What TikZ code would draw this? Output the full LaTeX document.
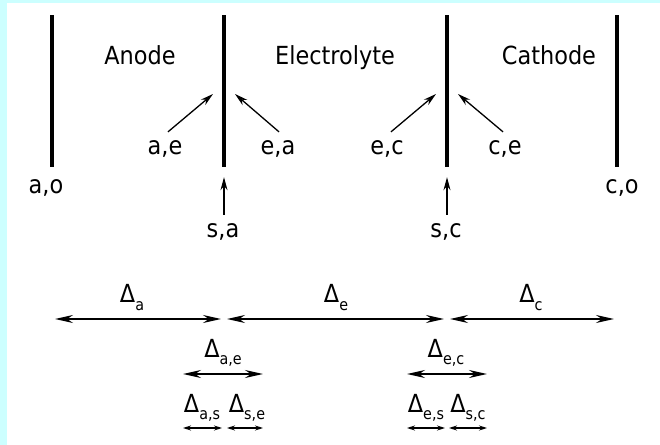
\documentclass[tikz,border=0pt]{standalone}
\usepackage{fontspec}
\setmainfont{DejaVu Sans Condensed}
\usepackage{xcolor}
\definecolor{bgcyan}{HTML}{CCFFFF}
\usetikzlibrary{arrows.meta,positioning}
\newcommand{\dlt}[1]{Δ\raisebox{-0.32em}{\fontsize{16}{16}\selectfont #1}}

\begin{document}
\begin{tikzpicture}[x=1bp,y=-1bp,font=\fontsize{25}{29}\selectfont,
  lbl/.style={inner sep=0pt,anchor=base},
  bar/.style={fill=black,inner sep=0pt,minimum width=3.3bp,minimum height=152bp},
  flux/.style={-{Stealth[length=13bp,width=7bp]},line width=1.3bp},
  span/.style={{Stealth[length=18bp,width=8bp]}-{Stealth[length=18bp,width=8bp]},line width=1.8bp,shorten <=3bp,shorten >=3bp},
  sspan/.style={{Stealth[length=8bp,width=5bp]}-{Stealth[length=8bp,width=5bp]},line width=1.1bp}]
\useasboundingbox (0,0) rectangle (660,445);
\fill[bgcyan] (0,0) rectangle (660,445);
\fill[white] (7,3) rectangle (660,445);
% electrode and interface bars
\node[bar] (bA) at (52,91) {};
\node[bar] (bSA) at (224,91) {};
\node[bar] (bSC) at (447,91) {};
\node[bar] (bC) at (617,91) {};
% region names
\node[lbl] (anode) at (140,65) {Anode};
\node[lbl] (elyte) at (335,65) {Electrolyte};
\node[lbl] (cathode) at (549,65) {Cathode};
% interface labels
\node[lbl] (ao) at (46,194) {a,o};
\node[lbl] (co) at (622,194) {c,o};
\node[lbl] (ae) at (165,155) {a,e};
\node[lbl] (ea) at (278,155) {e,a};
\node[lbl] (sa) at (223,238) {s,a};
\node[lbl] (ec) at (387,155) {e,c};
\node[lbl] (ce) at (505,155) {c,e};
\node[lbl] (sc) at (446,238) {s,c};
\draw[flux] ([shift={(3,-9)}]ae.north) -- ([xshift=-11bp,yshift=-3bp]bSA.center);
\draw[flux] ([shift={(1,-9)}]ea.north) -- ([xshift=11bp,yshift=-3bp]bSA.center);
\draw[flux] ([shift={(4,-9)}]ec.north) -- ([xshift=-11bp,yshift=-3bp]bSC.center);
\draw[flux] ([shift={(-2,-9)}]ce.north) -- ([xshift=11bp,yshift=-3bp]bSC.center);
\draw[flux] ([shift={(1,-9)}]sa.north) -- ([yshift=-10bp]bSA.south);
\draw[flux] ([shift={(1,-9)}]sc.north) -- ([yshift=-10bp]bSC.south);
% thicknesses
\coordinate (r1) at (0,319);
\coordinate (r2) at (0,374);
\coordinate (r3) at (0,428);
\coordinate (sA-l) at (183,0);
\coordinate (sA-r) at (263,0);
\coordinate (sC-l) at (407,0);
\coordinate (sC-r) at (487,0);
\node[lbl] (da) at (132,303) {\dlt{a}};
\node[lbl] (de) at (336,303) {\dlt{e}};
\node[lbl] (dc) at (531,303) {\dlt{c}};
\draw[span] (bA|-r1) -- (bSA|-r1);
\draw[span] (bSA|-r1) -- (bSC|-r1);
\draw[span] (bSC|-r1) -- (bC|-r1);
\node[lbl] (dae) at (223,357) {\dlt{a,e}};
\node[lbl] (dec) at (446,357) {\dlt{e,c}};
\draw[span,shorten <=0bp,shorten >=0bp] (sA-l|-r2) -- (sA-r|-r2);
\draw[span,shorten <=0bp,shorten >=0bp] (sC-l|-r2) -- (sC-r|-r2);
\node[lbl] (das) at (202,412) {\dlt{a,s}};
\node[lbl] (dse) at (247,412) {\dlt{s,e}};
\node[lbl] (des) at (426,412) {\dlt{e,s}};
\node[lbl] (dsc) at (468,412) {\dlt{s,c}};
\draw[sspan,shorten >=2bp] (sA-l|-r3) -- (bSA|-r3);
\draw[sspan,shorten <=3bp] (bSA|-r3) -- (sA-r|-r3);
\draw[sspan,shorten >=2bp] (sC-l|-r3) -- (bSC|-r3);
\draw[sspan,shorten <=2bp] (bSC|-r3) -- (sC-r|-r3);
\end{tikzpicture}
\end{document}
